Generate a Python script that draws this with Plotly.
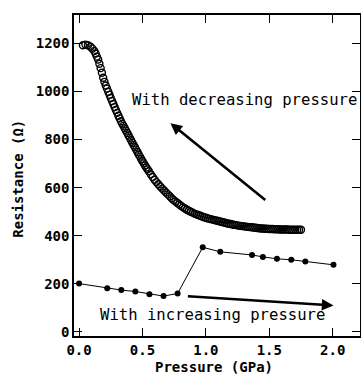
import plotly.graph_objects as go

# With decreasing pressure (open circles)
dec_p = [0.03, 0.05, 0.07, 0.09, 0.105, 0.12,
         0.13, 0.14, 0.15, 0.16, 0.17, 0.18, 0.19, 0.20, 0.21, 0.22,
         0.23, 0.24, 0.25, 0.26, 0.27, 0.28, 0.29, 0.30, 0.31, 0.32,
         0.33, 0.34, 0.35, 0.36, 0.37, 0.38, 0.39, 0.40, 0.41, 0.42, 0.43,
         0.44, 0.45, 0.46, 0.47, 0.48, 0.49, 0.50, 0.51, 0.52, 0.53, 0.54,
         0.55, 0.565, 0.58, 0.595, 0.61, 0.625, 0.64, 0.655, 0.67, 0.685,
         0.70, 0.715, 0.73, 0.745, 0.76, 0.775, 0.79, 0.805, 0.82, 0.835,
         0.85, 0.865, 0.88, 0.895, 0.91, 0.925, 0.94, 0.955, 0.97, 0.985,
         1.00, 1.015, 1.03, 1.045, 1.06, 1.075, 1.09, 1.105, 1.12, 1.135,
         1.15, 1.165, 1.18, 1.195, 1.21, 1.225, 1.24, 1.255, 1.27, 1.285,
         1.30, 1.315, 1.33, 1.345, 1.36, 1.375, 1.39, 1.405, 1.42, 1.435,
         1.45, 1.465, 1.48, 1.495, 1.51, 1.525, 1.54, 1.555, 1.57, 1.585,
         1.60, 1.615, 1.63, 1.645, 1.66, 1.675, 1.69, 1.705, 1.72, 1.735,
         1.75]
dec_r = [1192, 1195, 1192, 1186, 1178, 1168,
         1158, 1145, 1133, 1115, 1097, 1078, 1057, 1040, 1025, 1012,
         999, 986, 973, 960, 948, 935, 923, 911, 899, 888,
         876, 866, 857, 847, 837, 827, 817, 807, 797, 787, 777,
         768, 758, 748, 738, 729, 719, 710, 701, 692, 684, 676,
         668, 656, 644, 633, 623, 614, 605, 596, 588, 580,
         572, 564, 556, 549, 542, 536, 530, 524, 518, 513,
         508, 504, 500, 496, 492, 489, 486, 483, 480, 477,
         475, 472, 470, 468, 466, 464, 462, 460, 458, 456,
         454, 452, 450, 449, 447, 445, 444, 442, 441, 440,
         439, 438, 437, 436, 435, 434, 433, 432, 431, 430,
         430, 429, 429, 428, 428, 428, 427, 427, 427, 426,
         426, 426, 426, 426, 425, 425, 425, 425, 425, 425,
         425]

# With increasing pressure (filled circles)
inc_p = [0.0, 0.222, 0.333, 0.444, 0.555, 0.666, 0.777, 0.975, 1.113,
         1.364, 1.449, 1.56, 1.673, 1.784, 2.006]
inc_r = [201, 182, 174, 168, 157, 149, 160, 352, 333,
         320, 312, 304, 300, 293, 279]

x_ticks = [0.0, 0.5, 1.0, 1.5, 2.0]
x_ticktext = ["0.0", "0.5", "1.0", "1.5", "2.0"]
y_ticks = [0, 200, 400, 600, 800, 1000, 1200]
x_title = "Pressure (GPa)"
y_title = "Resistance (Ω)"

MONO = "DejaVu Sans Mono"

fig = go.Figure()
fig.add_trace(go.Scatter(
    x=dec_p, y=dec_r, mode="markers",
    marker=dict(symbol="circle-open", size=7, color="black",
                line=dict(width=1.4, color="black")),
    showlegend=False))
fig.add_trace(go.Scatter(
    x=inc_p, y=inc_r, mode="lines+markers",
    line=dict(color="black", width=1),
    marker=dict(symbol="circle", size=6, color="black"),
    showlegend=False))

fig.add_annotation(x=0.72, y=868, ax=1.48, ay=544, xref="x", yref="y",
                   axref="x", ayref="y", text="", showarrow=True,
                   arrowhead=2, arrowsize=0.9, arrowwidth=2.6, arrowcolor="black")
fig.add_annotation(x=2.006, y=110, ax=0.846, ay=149, xref="x", yref="y",
                   axref="x", ayref="y", text="", showarrow=True,
                   arrowhead=2, arrowsize=0.9, arrowwidth=2.6, arrowcolor="black")

fig.add_annotation(x=0.40, y=964, xref="x", yref="y", text="With decreasing pressure",
                   showarrow=False, xanchor="left", yanchor="middle",
                   font=dict(family=MONO, size=15.6, color="black"))
fig.add_annotation(x=0.146, y=69, xref="x", yref="y", text="With increasing pressure",
                   showarrow=False, xanchor="left", yanchor="middle",
                   font=dict(family=MONO, size=15.6, color="black"))

# axis titles (placed as paper annotations so they sit exactly as in the reference)
fig.add_annotation(x=0.49, y=0, xref="paper", yref="paper", text=x_title,
                   showarrow=False, xanchor="center", yanchor="middle", yshift=-31,
                   borderpad=0,
                   font=dict(family=MONO, size=14, color="black", weight="bold"))
fig.add_annotation(x=0, y=0.49, xref="paper", yref="paper", text=y_title,
                   showarrow=False, xanchor="center", yanchor="middle", xshift=-56,
                   textangle=-90,
                   font=dict(family=MONO, size=14, color="black", weight="bold"))

fig.update_layout(
    width=361, height=379,
    margin=dict(l=74, r=1, t=15, b=43),
    paper_bgcolor="white", plot_bgcolor="white",
    font=dict(family=MONO, color="black"),
)
fig.update_xaxes(
    range=[-0.04, 2.215], tickvals=x_ticks, ticktext=x_ticktext,
    ticks="inside", ticklen=8, tickwidth=1.2, tickcolor="black",
    showline=True, linewidth=1.5, linecolor="black", mirror="ticks",
    showgrid=False, zeroline=False,
    tickfont=dict(family=MONO, size=14, color="black", weight="bold"),
    automargin=False,
)
fig.update_yaxes(
    range=[-17, 1318], tickvals=y_ticks,
    ticks="inside", ticklen=8, tickwidth=1.2, tickcolor="black",
    showline=True, linewidth=1.5, linecolor="black", mirror="ticks",
    showgrid=False, zeroline=False,
    tickfont=dict(family=MONO, size=14, color="black", weight="bold"),
    automargin=False,
)

# remove the default 8px page margin so the figure fills the 361x379 window
fig.write_html("out.html", config={"displayModeBar": False},
               post_script="document.body.style.margin='0';")
